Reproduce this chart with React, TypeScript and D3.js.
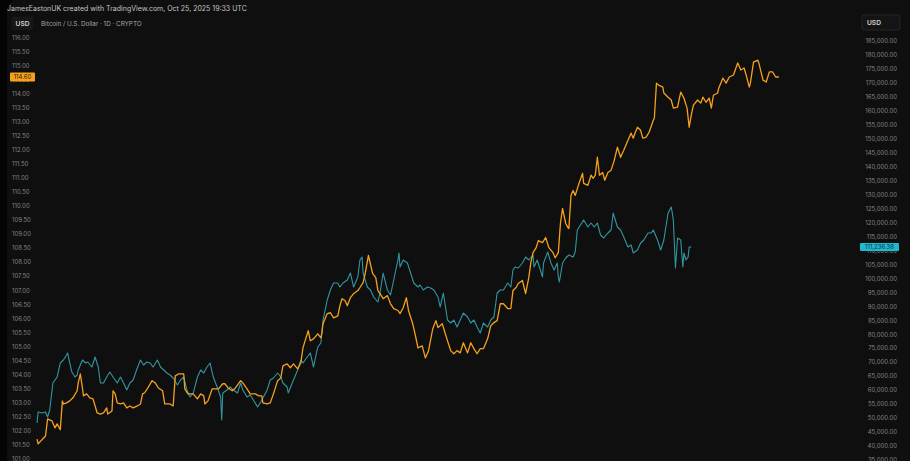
import React from 'react';
import * as d3 from 'd3';

// ---------- DATA ----------
const START = new Date(Date.UTC(2024, 1, 12));
const X_START = new Date(Date.UTC(2024, 1, 11));
const X_END = new Date(Date.UTC(2026, 2, 31));

const leftTicks = [101, 101.5, 102, 102.5, 103, 103.5, 104, 104.5, 105, 105.5, 106, 106.5, 107, 107.5, 108, 108.5, 109, 109.5, 110, 110.5, 111, 111.5, 112, 112.5, 113, 113.5, 114, 114.5, 115, 115.5, 116];
const rightTicks = [35000, 40000, 45000, 50000, 55000, 60000, 65000, 70000, 75000, 80000, 85000, 90000, 95000, 100000, 105000, 110000, 115000, 120000, 125000, 130000, 135000, 140000, 145000, 150000, 155000, 160000, 165000, 170000, 175000, 180000, 185000];

// Bitcoin / USD daily close, [day offset from START, price in thousands USD]
const btcUsd: [number, number][] = [
  [0, 48.24], [1, 52.18], [5, 51.82], [8, 52.18], [10, 50.39], [12, 52.9], [15, 62.56], [19, 64.71], [22, 69.72], [25, 70.8],
  [28, 72.59], [29, 73.3], [31, 69.72], [33, 66.5], [36, 64.71], [38, 65.43], [39, 67.22], [43, 70.8], [46, 69.72], [48, 70.08],
  [52, 68.29], [55, 71.87], [58, 68.29], [60, 62.56], [63, 62.56], [66, 64.71], [69, 66.5], [72, 64.71], [76, 62.56], [79, 64.71],
  [82, 62.56], [85, 60.06], [88, 62.56], [91, 63.64], [95, 67.93], [98, 70.8], [101, 69.01], [104, 70.08], [107, 69.72], [110, 68.29],
  [114, 70.8], [117, 68.29], [120, 67.22], [123, 66.14], [126, 65.43], [129, 64.35], [133, 61.85], [136, 63.64], [139, 64.71], [142, 60.06],
  [145, 57.55], [148, 58.98], [152, 64.71], [155, 67.22], [158, 66.14], [161, 68.29], [164, 69.72], [167, 64.71], [171, 60.77], [174, 57.55],
  [175, 49.32], [176, 58.98], [180, 60.06], [183, 61.13], [186, 60.06], [190, 58.98], [193, 62.56], [195, 60.06], [199, 57.55], [202, 58.27],
  [205, 56.48], [209, 53.97], [212, 55.76], [214, 57.19], [218, 60.06], [221, 63.64], [224, 64.35], [228, 66.14], [231, 64.71], [233, 62.56],
  [237, 61.13], [238, 58.98], [243, 63.64], [247, 67.22], [250, 70.8], [252, 69.72], [256, 71.87], [259, 73.3], [262, 68.29], [266, 75.45],
  [269, 76.88], [271, 85.12], [275, 92.28], [278, 95.86], [281, 98.36], [285, 98.36], [287, 96.93], [290, 98.36], [294, 99.44], [297, 101.94],
  [300, 96.93], [304, 100.51], [306, 106.6], [308, 107.67], [309, 101.94], [313, 96.93], [316, 95.86], [319, 93.35], [323, 91.56], [325, 94.78],
  [328, 101.94], [332, 95.86], [335, 94.07], [338, 99.44], [342, 106.6], [343, 109.1], [344, 104.09], [347, 106.6], [351, 105.52], [354, 101.94],
  [357, 98.36], [361, 96.93], [363, 97.65], [366, 95.86], [370, 96.93], [373, 96.57], [376, 95.86], [380, 93.35], [382, 89.77], [385, 94.78],
  [389, 85.12], [392, 84.04], [395, 85.12], [398, 82.61], [401, 85.12], [404, 87.62], [408, 86.19], [411, 84.04], [414, 85.12], [417, 82.61],
  [420, 80.46], [423, 84.04], [427, 82.61], [430, 85.12], [433, 86.19], [436, 94.78], [439, 95.86], [442, 95.86], [446, 98.36], [449, 96.93],
  [451, 103.02], [453, 104.09], [456, 103.73], [460, 105.52], [463, 107.67], [466, 106.6], [470, 108.39], [471, 104.09], [474, 106.6], [477, 103.02],
  [479, 100.51], [480, 105.52], [484, 109.46], [487, 105.52], [490, 103.02], [493, 105.52], [494, 100.51], [495, 98.72], [498, 105.52], [501, 107.31],
  [504, 108.39], [508, 107.67], [510, 109.46], [512, 117.34], [515, 119.13], [518, 120.92], [522, 118.41], [525, 119.84], [528, 118.41], [531, 119.84],
  [534, 115.55], [537, 114.47], [541, 116.26], [544, 117.34], [546, 123.42], [550, 118.41], [553, 117.34], [556, 114.83], [560, 111.25], [563, 111.97],
  [565, 109.1], [569, 110.18], [572, 112.68], [575, 113.76], [579, 116.26], [582, 116.26], [584, 117.34], [588, 113.76], [591, 110.18], [594, 113.76],
  [598, 123.42], [601, 125.57], [602, 123.42], [603, 120.92], [605, 103.73], [607, 114.47], [610, 113.76], [612, 104.09], [613, 109.1], [615, 106.6],
  [617, 107.67], [618, 111.25], [620, 111.23638],
];

// Orange overlay series on the left scale, [day offset from START, value]
const overlay: [number, number][] = [
  [0, 101.7], [1, 101.53], [8, 101.81], [10, 102.42], [14, 102.35], [17, 102.1], [19, 102.24], [22, 102.03], [24, 103.06], [25, 102.95],
  [28, 102.99], [31, 103.06], [34, 103.17], [38, 103.42], [39, 103.7], [41, 104.02], [43, 103.52], [44, 103.24], [47, 103.31], [50, 103.17],
  [53, 103.13], [57, 102.63], [60, 102.59], [63, 102.63], [66, 102.81], [67, 102.59], [71, 102.7], [72, 103.42], [74, 103.31], [76, 102.99],
  [79, 102.95], [82, 102.99], [85, 102.81], [88, 102.88], [91, 102.81], [95, 102.88], [98, 102.95], [100, 103.31], [102, 103.35], [105, 103.52],
  [109, 103.78], [112, 103.7], [115, 103.52], [119, 103.42], [121, 102.95], [126, 102.95], [129, 102.88], [131, 103.95], [134, 104.02], [139, 104.02],
  [140, 103.49], [143, 103.31], [148, 103.31], [152, 103.13], [155, 103.31], [158, 103.24], [159, 102.95], [162, 103.06], [166, 103.49], [169, 103.49],
  [172, 103.49], [176, 103.67], [178, 103.67], [181, 103.52], [185, 103.42], [188, 103.52], [193, 103.78], [195, 103.7], [199, 103.49], [202, 103.31],
  [207, 103.31], [210, 103.24], [213, 103.24], [214, 102.99], [218, 102.95], [221, 102.99], [224, 103.31], [228, 103.78], [231, 103.88], [233, 104.31],
  [237, 104.38], [240, 104.24], [243, 104.38], [247, 104.2], [250, 104.42], [252, 104.95], [254, 105.2], [257, 105.56], [259, 105.2], [262, 105.27],
  [266, 105.45], [269, 105.31], [270, 105.49], [271, 105.81], [275, 106.17], [278, 106.2], [281, 106.02], [285, 106.09], [287, 106.45], [289, 106.7],
  [292, 106.63], [294, 106.45], [297, 106.74], [300, 106.88], [304, 106.99], [306, 107.1], [309, 107.27], [311, 107.6], [314, 108.24], [318, 107.6],
  [321, 107.45], [323, 106.99], [325, 106.88], [328, 106.7], [332, 106.81], [335, 106.52], [338, 106.35], [342, 106.28], [344, 106.17], [347, 106.38],
  [350, 106.74], [352, 106.28], [356, 105.81], [359, 105.31], [361, 104.95], [365, 105.02], [368, 104.59], [371, 104.85], [375, 105.63], [378, 105.92],
  [380, 105.67], [384, 105.81], [389, 105.2], [392, 104.85], [395, 104.74], [398, 104.85], [401, 104.77], [404, 105.13], [408, 104.77], [411, 105.13],
  [414, 104.92], [417, 104.74], [420, 104.92], [423, 104.92], [427, 105.27], [430, 105.74], [433, 105.85], [436, 105.92], [439, 106.52], [442, 106.52],
  [446, 106.35], [449, 106.35], [451, 106.99], [454, 107.1], [456, 107.24], [460, 107.35], [463, 106.88], [466, 107.45], [468, 107.99], [470, 108.34],
  [473, 108.52], [475, 108.77], [479, 108.7], [482, 108.88], [485, 108.52], [489, 108.34], [491, 108.16], [494, 108.34], [496, 109.38], [498, 109.92],
  [499, 109.74], [501, 109.38], [503, 109.24], [504, 109.2], [506, 110.38], [508, 110.56], [510, 110.38], [513, 110.74], [517, 111.17], [518, 110.81],
  [522, 110.74], [525, 111.1], [527, 110.99], [529, 111.1], [531, 111.74], [533, 111.1], [536, 111.2], [538, 110.92], [541, 111.2], [544, 111.28],
  [547, 111.63], [550, 112.1], [553, 111.74], [556, 111.99], [560, 112.35], [563, 112.6], [565, 112.42], [567, 112.63], [569, 112.81], [572, 112.7],
  [574, 112.42], [577, 112.45], [580, 112.63], [584, 113.06], [585, 113.13], [587, 114.38], [589, 114.31], [593, 114.24], [594, 114.03], [598, 113.88],
  [601, 113.78], [603, 113.49], [607, 113.53], [610, 114.06], [613, 113.85], [616, 113.49], [618, 112.81], [620, 113.24], [622, 113.6], [626, 113.78],
  [629, 113.67], [631, 113.88], [634, 113.7], [637, 113.85], [639, 113.49], [641, 113.95], [645, 114.03], [646, 114.2], [650, 114.56], [653, 114.38],
  [656, 114.6], [660, 114.67], [664, 115.1], [667, 114.85], [670, 114.92], [672, 114.67], [675, 114.24], [676, 114.38], [679, 115.13], [683, 115.2],
  [684, 115.1], [688, 114.49], [691, 114.42], [694, 114.78], [697, 114.78], [700, 114.6], [703, 114.6],
];

const HEADER = 'JamesEastonUK created with TradingView.com, Oct 25, 2025 19:33 UTC';
const TITLE = 'Bitcoin / U.S. Dollar · 1D · CRYPTO';
const UNIT = 'USD';

// ---------- CHART ----------
const W = 910;
const H = 461;
const FONT = "Inter, 'Liberation Sans', Arial, sans-serif";
const ORANGE = '#f6a11d';
const TEAL = '#35a2ad';

export default function App() {
  const x = d3.scaleUtc().domain([X_START, X_END]).range([36, 858]);
  const yL = d3.scaleLinear().domain([101, 116]).range([458.7, 37.7]);
  const yR = d3.scaleLinear().domain([35000, 185000]).range([460, 41]);

  const toDate = (d: number) => d3.utcDay.offset(START, d);

  const btcLine = d3
    .line<[number, number]>()
    .x((d) => x(toDate(d[0])))
    .y((d) => yR(d[1] * 1000));
  const ovLine = d3
    .line<[number, number]>()
    .x((d) => x(toDate(d[0])))
    .y((d) => yL(d[1]));

  const lastBtc = btcUsd[btcUsd.length - 1][1] * 1000;
  const lastOv = overlay[overlay.length - 1][1];
  const fmtL = d3.format('.2f');
  const fmtR = d3.format(',.2f');

  return (
    <div style={{ position: 'fixed', left: 0, top: 0, width: W, height: H }}>
      <svg width={W} height={H} style={{ display: 'block', fontFamily: FONT }}>
        <defs>
          <clipPath id="plot">
            <rect x={36} y={12} width={822} height={H - 12} />
          </clipPath>
          <clipPath id="panel">
            <rect x={7} y={-2} width={W + 10} height={H + 20} rx={14} />
          </clipPath>
        </defs>
        <rect width={W} height={H} fill="#040404" />
        <rect x={7} y={-2} width={W + 10} height={H + 20} rx={14} fill="#0f0f0f" />
        <g clipPath="url(#panel)">
          <text x={7} y={10.5} fontSize={7} fill="#c4c4c4">{HEADER}</text>
        </g>

        {/* left unit box + title */}
        <rect x={11.5} y={16.5} width={22} height={13.5} rx={2} fill="#171717" />
        <text x={22.5} y={25.8} fontSize={6.6} fontWeight={600} fill="#d2d2d2" textAnchor="middle">{UNIT}</text>
        <text x={41} y={25.8} fontSize={6.3} fill="#a6a6a6">{TITLE}</text>

        {/* right unit box */}
        <rect x={862} y={15} width={38} height={15} rx={2} fill="#141414" stroke="#2a2a2a" strokeWidth={0.8} />
        <text x={867} y={25.2} fontSize={6.6} fontWeight={600} fill="#d8d8d8">{UNIT}</text>

        {/* left axis ticks */}
        {leftTicks.map((v) => (
          <text key={'l' + v} x={12} y={yL(v) + 2.2} fontSize={6} fill="#858585">
            {fmtL(v)}
          </text>
        ))}
        {/* right axis ticks */}
        {rightTicks.map((v) => (
          <text key={'r' + v} x={897} y={yR(v) + 2.2} fontSize={6} fill="#858585" textAnchor="end">
            {fmtR(v)}
          </text>
        ))}

        <g clipPath="url(#plot)">
          <path d={btcLine(btcUsd) || ''} fill="none" stroke={TEAL} strokeWidth={1.1} strokeLinejoin="round" opacity={0.92} />
          <path d={ovLine(overlay) || ''} fill="none" stroke={ORANGE} strokeWidth={1.3} strokeLinejoin="round" />
        </g>

        {/* last value badges */}
        <rect x={10} y={yL(lastOv) - 4.6} width={25} height={9.2} rx={1} fill={ORANGE} />
        <text x={22.5} y={yL(lastOv) + 2.1} fontSize={6} fill="#2a1a00" textAnchor="middle">{fmtL(lastOv)}</text>

        <rect x={860} y={yR(lastBtc) - 4} width={39} height={8} rx={1} fill="#1fb8cf" />
        <text x={879.5} y={yR(lastBtc) + 2.1} fontSize={6} fill="#06343c" textAnchor="middle">{fmtR(lastBtc)}</text>
      </svg>
    </div>
  );
}
